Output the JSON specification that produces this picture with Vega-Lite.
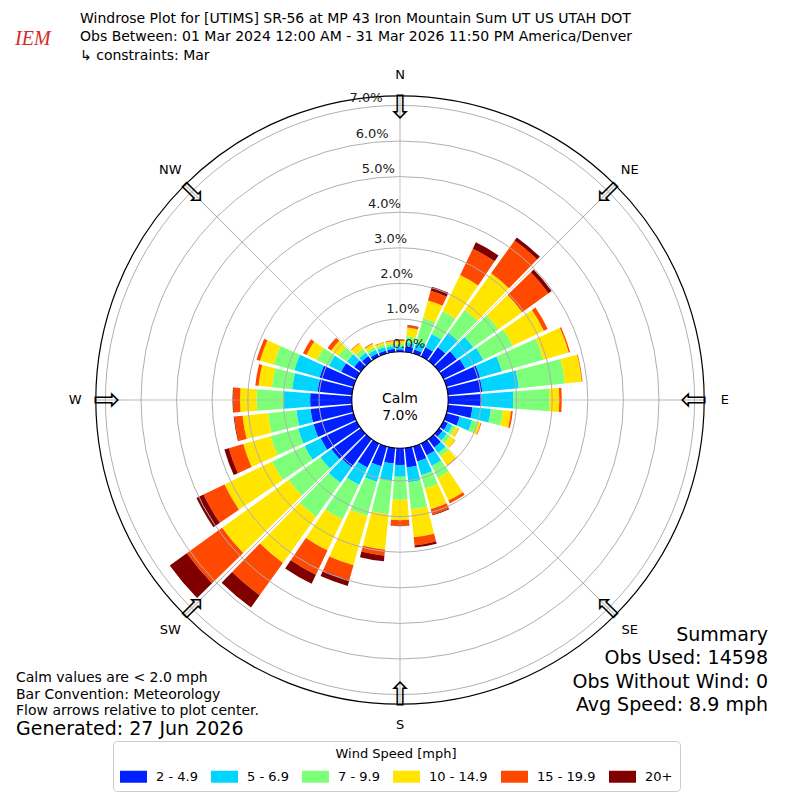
{
  "$schema": "https://vega.github.io/schema/vega-lite/v6.json",
  "width": 800,
  "height": 800,
  "autosize": {"type": "none"},
  "padding": 0,
  "background": "white",
  "config": {"view": {"stroke": null}, "font": "DejaVu Sans"},
  "datasets": {
    "rose": [
      {"d": 0, "v1": 0.15, "v2": 0.07, "v3": 0.08, "v4": 0.08, "v5": 0.04, "v6": 0.01},
      {"d": 10, "v1": 0.24, "v2": 0.10, "v3": 0.19, "v4": 0.24, "v5": 0.06, "v6": 0.01},
      {"d": 20, "v1": 0.20, "v2": 0.22, "v3": 0.70, "v4": 0.51, "v5": 0.28, "v6": 0.12},
      {"d": 30, "v1": 0.37, "v2": 0.41, "v3": 0.71, "v4": 1.13, "v5": 0.82, "v6": 0.20},
      {"d": 40, "v1": 0.55, "v2": 0.50, "v3": 0.79, "v4": 1.27, "v5": 1.13, "v6": 0.11},
      {"d": 50, "v1": 0.69, "v2": 0.57, "v3": 0.87, "v4": 0.82, "v5": 0.91, "v6": 0.11},
      {"d": 60, "v1": 0.76, "v2": 0.56, "v3": 0.92, "v4": 0.97, "v5": 0.12, "v6": 0},
      {"d": 70, "v1": 1.06, "v2": 0.64, "v3": 1.21, "v4": 0.74, "v5": 0.04, "v6": 0},
      {"d": 80, "v1": 1.05, "v2": 1.03, "v3": 1.30, "v4": 0.48, "v5": 0.02, "v6": 0},
      {"d": 90, "v1": 1.02, "v2": 0.89, "v3": 1.01, "v4": 0.28, "v5": 0.07, "v6": 0},
      {"d": 100, "v1": 0.77, "v2": 0.52, "v3": 0.34, "v4": 0.23, "v5": 0.05, "v6": 0},
      {"d": 110, "v1": 0.47, "v2": 0.36, "v3": 0.17, "v4": 0.08, "v5": 0.02, "v6": 0},
      {"d": 120, "v1": 0.22, "v2": 0.14, "v3": 0.10, "v4": 0.10, "v5": 0.01, "v6": 0},
      {"d": 130, "v1": 0.20, "v2": 0.15, "v3": 0.12, "v4": 0.17, "v5": 0.01, "v6": 0},
      {"d": 140, "v1": 0.37, "v2": 0.19, "v3": 0.12, "v4": 0.30, "v5": 0.02, "v6": 0},
      {"d": 150, "v1": 0.45, "v2": 0.33, "v3": 0.38, "v4": 0.70, "v5": 0.09, "v6": 0},
      {"d": 160, "v1": 0.52, "v2": 0.40, "v3": 0.39, "v4": 0.60, "v5": 0.16, "v6": 0.02},
      {"d": 170, "v1": 0.63, "v2": 0.42, "v3": 0.76, "v4": 0.79, "v5": 0.23, "v6": 0.06},
      {"d": 180, "v1": 0.55, "v2": 0.33, "v3": 0.65, "v4": 0.57, "v5": 0.16, "v6": 0.01},
      {"d": 190, "v1": 0.52, "v2": 0.48, "v3": 0.95, "v4": 1.00, "v5": 0.17, "v6": 0.16},
      {"d": 200, "v1": 0.66, "v2": 0.45, "v3": 1.00, "v4": 1.44, "v5": 0.43, "v6": 0.17},
      {"d": 210, "v1": 0.83, "v2": 0.54, "v3": 1.08, "v4": 0.97, "v5": 0.75, "v6": 0.28},
      {"d": 220, "v1": 1.05, "v2": 0.54, "v3": 1.17, "v4": 1.60, "v5": 1.12, "v6": 0.42},
      {"d": 230, "v1": 1.10, "v2": 0.38, "v3": 1.10, "v4": 2.30, "v5": 1.22, "v6": 0.59},
      {"d": 240, "v1": 1.20, "v2": 0.50, "v3": 1.01, "v4": 1.49, "v5": 0.65, "v6": 0.22},
      {"d": 250, "v1": 1.25, "v2": 0.45, "v3": 0.80, "v4": 0.80, "v5": 0.42, "v6": 0.13},
      {"d": 260, "v1": 1.25, "v2": 0.40, "v3": 0.80, "v4": 0.72, "v5": 0.23, "v6": 0.02},
      {"d": 270, "v1": 1.25, "v2": 0.75, "v3": 0.75, "v4": 0.47, "v5": 0.19, "v6": 0.02},
      {"d": 280, "v1": 1.05, "v2": 0.72, "v3": 0.57, "v4": 0.38, "v5": 0.09, "v6": 0},
      {"d": 290, "v1": 1.07, "v2": 0.74, "v3": 0.60, "v4": 0.40, "v5": 0.10, "v6": 0},
      {"d": 300, "v1": 0.56, "v2": 0.38, "v3": 0.38, "v4": 0.32, "v5": 0.11, "v6": 0},
      {"d": 310, "v1": 0.31, "v2": 0.25, "v3": 0.30, "v4": 0.25, "v5": 0.12, "v6": 0},
      {"d": 320, "v1": 0.25, "v2": 0.12, "v3": 0.13, "v4": 0.18, "v5": 0.02, "v6": 0},
      {"d": 330, "v1": 0.18, "v2": 0.11, "v3": 0.08, "v4": 0.11, "v5": 0.02, "v6": 0},
      {"d": 340, "v1": 0.17, "v2": 0.10, "v3": 0.07, "v4": 0.06, "v5": 0.02, "v6": 0},
      {"d": 350, "v1": 0.17, "v2": 0.08, "v3": 0.07, "v4": 0.07, "v5": 0.02, "v6": 0}
    ],
    "rings": [{"k": 0, "l": "0.0%"}, {"k": 1, "l": "1.0%"}, {"k": 2, "l": "2.0%"}, {"k": 3, "l": "3.0%"}, {"k": 4, "l": "4.0%"}, {"k": 5, "l": "5.0%"}, {"k": 6, "l": "6.0%"}, {"k": 7, "l": "7.0%"}],
    "compass": [{"d": 0, "n": "N"}, {"d": 45, "n": "NE"}, {"d": 90, "n": "E"}, {"d": 135, "n": "SE"}, {"d": 180, "n": "S"}, {"d": 225, "n": "SW"}, {"d": 270, "n": "W"}, {"d": 315, "n": "NW"}]
  },
  "layer": [
    {
      "data": {"name": "rose"},
      "transform": [{"fold": ["v1", "v2", "v3", "v4", "v5", "v6"], "as": ["speed", "pct"]}],
      "mark": {"type": "arc", "thetaOffset": -0.075, "theta2Offset": 0.075},
      "encoding": {
        "theta": {"field": "d", "type": "quantitative", "stack": null, "scale": {"type": "linear", "domain": [0, 360], "range": [0, 6.283185307179586], "zero": false, "nice": false}},
        "theta2": {"field": "d"},
        "radius": {"field": "pct", "type": "quantitative", "stack": "zero", "scale": {"type": "linear", "domain": [0, 7.27], "range": [45.4, 304.2], "zero": false, "nice": false}},
        "color": {
          "field": "speed", "type": "nominal",
          "scale": {"domain": ["v1", "v2", "v3", "v4", "v5", "v6"], "range": ["#0020ff", "#00d4ff", "#7dff7a", "#ffe500", "#ff4800", "#800000"]},
          "legend": {
            "orient": "none", "legendX": 113, "legendY": 741, "direction": "horizontal", "columns": 6,
            "title": "Wind Speed [mph]", "titleAnchor": "middle", "titleFontSize": 13, "titleFontWeight": "normal", "titleFont": "DejaVu Sans", "titlePadding": 2,
            "labelFontSize": 13, "labelFont": "DejaVu Sans", "labelOffset": 9, "columnPadding": 13,
            "symbolType": "M-1,-0.444H1V0.444H-1Z", "symbolSize": 729, "symbolStrokeWidth": 0, "symbolOpacity": 1,
            "padding": 7, "strokeColor": "#cccccc", "fillColor": "white", "cornerRadius": 4,
            "labelExpr": "datum.label == 'v1' ? '2 - 4.9' : datum.label == 'v2' ? '5 - 6.9' : datum.label == 'v3' ? '7 - 9.9' : datum.label == 'v4' ? '10 - 14.9' : datum.label == 'v5' ? '15 - 19.9' : '20+'"
          }
        },
        "order": {"field": "speed", "sort": "ascending"}
      }
    },
    {
      "data": {"name": "rings"},
      "transform": [{"filter": "datum.k > 0"}],
      "mark": {"type": "arc", "filled": false, "stroke": "#b0b0b0", "strokeWidth": 1, "theta": 0, "theta2": 6.2832},
      "encoding": {
        "radius": {"field": "k", "type": "quantitative", "scale": {"type": "linear", "domain": [0, 7.27], "range": [45.4, 304.2], "zero": false, "nice": false}},
        "radius2": {"datum": 0}
      }
    },
    {
      "data": {"name": "compass"},
      "mark": {"type": "arc", "fill": "#b0b0b0", "stroke": null, "thetaOffset": -0.0017, "theta2Offset": 0.0017},
      "encoding": {
        "theta": {"field": "d", "type": "quantitative", "stack": null, "scale": {"type": "linear", "domain": [0, 360], "range": [0, 6.283185307179586], "zero": false, "nice": false}},
        "theta2": {"field": "d"},
        "radius": {"datum": 7.27, "type": "quantitative", "scale": {"type": "linear", "domain": [0, 7.27], "range": [45.4, 304.2], "zero": false, "nice": false}},
        "radius2": {"datum": 0}
      }
    },
    {
      "data": {"values": [{}]},
      "mark": {"type": "arc", "filled": false, "stroke": "black", "strokeWidth": 1.2, "theta": 0, "theta2": 6.2832},
      "encoding": {
        "radius": {"datum": 7.27, "type": "quantitative", "scale": {"type": "linear", "domain": [0, 7.27], "range": [45.4, 304.2], "zero": false, "nice": false}},
        "radius2": {"datum": 0}
      }
    },
    {
      "data": {"values": [{}]},
      "mark": {"type": "arc", "fill": "white", "stroke": "black", "strokeWidth": 1.2, "theta": 0, "theta2": 6.2832, "radius2": 0},
      "encoding": {
        "radius": {"datum": 0.08, "type": "quantitative", "scale": {"type": "linear", "domain": [0, 7.27], "range": [45.4, 304.2], "zero": false, "nice": false}}
      }
    },
    {
      "data": {"values": [{}]},
      "mark": {"type": "text", "text": ["Calm", "7.0%"], "x": {"expr": "width/2"}, "y": 398.5, "align": "center", "baseline": "middle", "lineHeight": 17, "fontSize": 14, "font": "DejaVu Sans", "color": "black"}
    },
    {
      "data": {"name": "compass"},
      "mark": {"type": "text", "text": "⇩", "fontSize": 32, "font": "DejaVu Sans", "align": "center", "baseline": "middle", "color": "black"},
      "encoding": {
        "theta": {"field": "d", "type": "quantitative", "stack": null, "scale": {"type": "linear", "domain": [0, 360], "range": [0, 6.283185307179586], "zero": false, "nice": false}},
        "radius": {"datum": 6.93, "type": "quantitative", "scale": {"type": "linear", "domain": [0, 7.27], "range": [45.4, 304.2], "zero": false, "nice": false}},
        "angle": {"field": "d", "type": "quantitative", "scale": null}
      }
    },
    {
      "data": {"name": "compass"},
      "mark": {"type": "text", "fontSize": 13, "font": "DejaVu Sans", "align": "center", "baseline": "middle", "color": "black"},
      "encoding": {
        "theta": {"field": "d", "type": "quantitative", "stack": null, "scale": {"type": "linear", "domain": [0, 360], "range": [0, 6.283185307179586], "zero": false, "nice": false}},
        "radius": {"datum": 7.85, "type": "quantitative", "scale": {"type": "linear", "domain": [0, 7.27], "range": [45.4, 304.2], "zero": false, "nice": false}},
        "text": {"field": "n"}
      }
    },
    {
      "data": {"name": "rings"},
      "mark": {"type": "text", "fontSize": 13, "font": "DejaVu Sans", "align": "center", "baseline": "middle", "color": "#222222", "radiusOffset": 11.5, "dx": 18.7},
      "encoding": {
        "theta": {"datum": -9.9, "type": "quantitative", "scale": {"type": "linear", "domain": [0, 360], "range": [0, 6.283185307179586], "zero": false, "nice": false}},
        "radius": {"field": "k", "type": "quantitative", "scale": {"type": "linear", "domain": [0, 7.27], "range": [45.4, 304.2], "zero": false, "nice": false}},
        "text": {"field": "l"}
      }
    },
    {
      "data": {"values": [{}]},
      "mark": {"type": "text", "text": ["Windrose Plot for [UTIMS] SR-56 at MP 43 Iron Mountain Sum UT US UTAH DOT", "Obs Between: 01 Mar 2024 12:00 AM - 31 Mar 2026 11:50 PM America/Denver", "\u00a0↳ constraints: Mar"], "x": 80, "y": 23, "align": "left", "baseline": "alphabetic", "lineHeight": 18.3, "fontSize": 14, "font": "DejaVu Sans", "color": "black"}
    },
    {
      "data": {"values": [{}]},
      "mark": {"type": "text", "text": "IEM", "x": 15, "y": 45, "align": "left", "baseline": "alphabetic", "fontSize": 20, "font": "Liberation Serif", "fontStyle": "italic", "color": "#d42a2a"}
    },
    {
      "data": {"values": [{}]},
      "mark": {"type": "text", "text": ["Summary", "Obs Used: 14598", "Obs Without Wind: 0", "Avg Speed: 8.9 mph"], "x": 768, "y": 641, "align": "right", "baseline": "alphabetic", "lineHeight": 23.3, "fontSize": 19, "font": "DejaVu Sans", "color": "black"}
    },
    {
      "data": {"values": [{}]},
      "mark": {"type": "text", "text": ["Calm values are < 2.0 mph", "Bar Convention: Meteorology", "Flow arrows relative to plot center."], "x": 16, "y": 682, "align": "left", "baseline": "alphabetic", "lineHeight": 16.6, "fontSize": 14, "font": "DejaVu Sans", "color": "black"}
    },
    {
      "data": {"values": [{}]},
      "mark": {"type": "text", "text": "Generated: 27 Jun 2026", "x": 16, "y": 735, "align": "left", "baseline": "alphabetic", "fontSize": 19, "font": "DejaVu Sans", "color": "black"}
    }
  ]
}
